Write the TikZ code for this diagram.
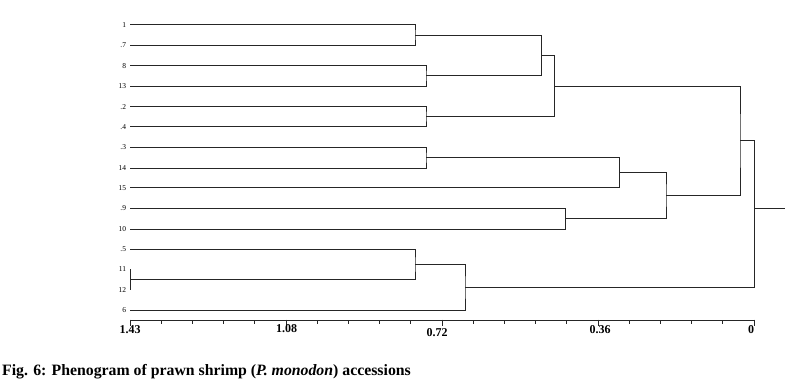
\documentclass[tikz,border=0pt]{standalone}
\usepackage{fontspec}
\setmainfont{Liberation Serif}
\usetikzlibrary{positioning}

\begin{document}
\begin{tikzpicture}[x=1pt,y=-1pt,line width=0.8pt,draw=black!85,
  leaf/.style={left,xshift=-2.5pt,inner sep=1pt,font=\fontsize{7.5}{7.5}\selectfont},
  tick/.style={anchor=north,inner sep=0pt,font=\fontsize{12}{12}\selectfont\bfseries},
  branch/.style={draw=black!85,line width=0.9pt}]
  \useasboundingbox (0,0) rectangle (790,381);
  \def\xl{130}
  % leaves
  \foreach \n/\t/\y in {s1/1/24.7, s7/.7/45, s8/8/65.7, s13/13/86,
      s2/.2/106.7, s4/.4/126.7, s3/.3/147.3, s14/14/168,
      s15/15/187.7, s9/.9/208.3, s10/10/229, s5/.5/249.3,
      s11/11/269.3, s12/12/290, s6/6/310} {
    \coordinate (\n) at (\xl,\y);
    \node[leaf] (t\n) at (\n) {\t};
  }
  % merges
  \coordinate (c17) at (415,35);
  \coordinate (c813) at (426,75.8);
  \coordinate (c24) at (426,116.7);
  \coordinate (c314) at (426,157.6);
  \coordinate (c1713) at (541.7,55.5);
  \coordinate (cup) at (554.7,86);
  \coordinate (c315) at (619.3,172.5);
  \coordinate (c910) at (565.7,218.7);
  \coordinate (clow) at (666,195.5);
  \coordinate (cab) at (740,140.8);
  \coordinate (c1112) at (\xl,279.6);
  \coordinate (c5) at (415,264.5);
  \coordinate (c6) at (465,287.3);
  \coordinate (root) at (754.5,208.3);
  \coordinate (stub) at (785,208.3);

  \draw[branch] (s11) -- (s12);
  \foreach \a/\m/\b in {s1/c17/s7, s8/c813/s13, s2/c24/s4, s3/c314/s14,
      c17/c1713/c813, c1713/cup/c24, c314/c315/s15, s9/c910/s10,
      c315/clow/c910, cup/cab/clow, s5/c5/c1112, c5/c6/s6, cab/root/c6} {
    \draw[branch] (\a) -| (\m) |- (\b);
  }
  \draw[branch] (root) -- (stub);

  % axis
  \coordinate (ax0) at (\xl,320.7);
  \coordinate (ax1) at (754,320.7);
  \draw[branch] (ax0) -- (ax1);
  \foreach \i in {0,...,20} {
    \draw[branch] (\xl+\i*31.2,320.7) -- +(0,3.3);
  }
  \foreach \i in {0,5,...,20} {
    \draw[branch] (\xl+\i*31.2,319.5) -- +(0,6.5);
  }
  \node[tick] (v143) at (130,325) {1.43};
  \node[tick] (v108) at (286.7,324) {1.08};
  \node[tick] (v072) at (437,328.5) {0.72};
  \node[tick] (v036) at (600,325) {0.36};
  \node[tick] (v0) at (751,325) {0};

  % caption
  \node[anchor=base west,inner sep=0pt,font=\fontsize{15.8}{15.8}\selectfont\bfseries]
    (cap) at (1.7,375) {Fig. 6: Phenogram of prawn shrimp (\textit{P. monodon}) accessions};
\end{tikzpicture}
\end{document}
